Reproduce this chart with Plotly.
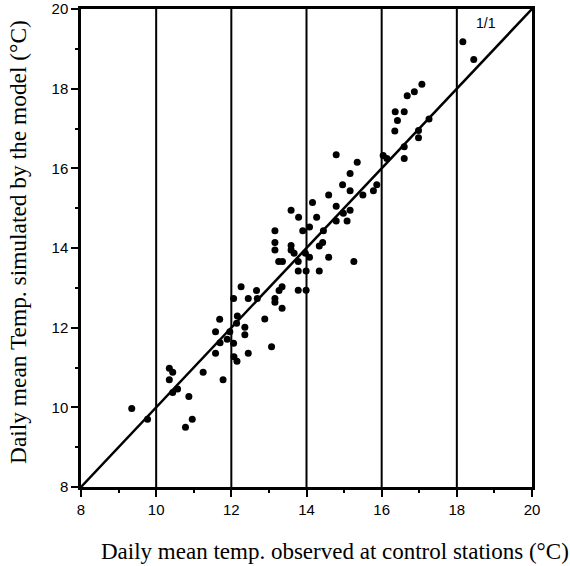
import plotly.graph_objects as go

obs_x = [9.35, 9.77, 10.35, 10.44, 10.35, 10.44, 10.57, 10.87, 10.78, 10.96,
         11.25, 11.69, 11.58, 11.70, 11.58, 11.78, 11.89, 11.96, 12.06, 12.07,
         12.15, 12.16, 12.14, 12.06, 12.26, 12.45, 12.67, 12.89, 13.07, 12.45,
         12.36, 12.36, 12.69, 13.16, 13.16, 13.35, 13.27, 13.35, 13.78, 13.99,
         13.78, 13.99, 14.34, 13.26, 13.36, 13.78, 14.08, 14.59, 15.26, 13.97,
         13.67, 13.59, 13.16, 13.59, 13.16, 14.34, 14.43, 13.16, 13.90, 14.08,
         14.45, 13.59, 14.16, 13.79, 14.27, 14.79, 14.98, 15.16, 14.79, 15.08,
         14.79, 15.35, 15.16, 14.96, 14.59, 15.16, 15.50, 15.78, 15.87, 16.04,
         16.14, 16.35, 16.42, 18.16, 18.45, 17.07, 16.87, 16.68, 16.36, 16.60,
         17.26, 16.98, 16.98, 16.60, 16.60]
sim_y = [9.97, 9.70, 10.98, 10.88, 10.69, 10.37, 10.46, 10.27, 9.50, 9.70,
         10.88, 12.21, 11.90, 11.62, 11.36, 10.69, 11.71, 11.90, 11.61, 11.27,
         11.16, 12.29, 12.11, 12.73, 13.03, 12.73, 12.93, 12.22, 11.52, 11.36,
         12.01, 11.82, 12.73, 12.73, 12.64, 12.49, 12.93, 13.03, 12.94, 12.94,
         13.42, 13.42, 13.42, 13.66, 13.66, 13.66, 13.77, 13.77, 13.66, 13.87,
         13.87, 13.95, 13.95, 14.06, 14.14, 14.05, 14.14, 14.43, 14.43, 14.53,
         14.43, 14.95, 15.14, 14.77, 14.77, 15.05, 14.87, 14.95, 14.68, 14.68,
         16.34, 16.15, 15.87, 15.59, 15.33, 15.44, 15.33, 15.44, 15.59, 16.32,
         16.25, 16.94, 17.20, 19.18, 18.73, 18.11, 17.92, 17.82, 17.42, 17.42,
         17.24, 16.95, 16.77, 16.54, 16.25]

one_to_one = [8, 20]
grid_x = [10, 12, 14, 16, 18]
tick_vals = [8, 10, 12, 14, 16, 18, 20]
minor_vals = [9, 11, 13, 15, 17, 19]
x_title = "Daily mean temp. observed at control stations (°C)"
y_title = "Daily mean Temp. simulated by the model (°C)"

serif = "Times New Roman, Liberation Serif, serif"

fig = go.Figure()
fig.add_trace(go.Scatter(x=one_to_one, y=one_to_one, mode="lines",
                         line=dict(color="black", width=2.5), hoverinfo="skip"))
fig.add_trace(go.Scatter(x=obs_x, y=sim_y, mode="markers",
                         marker=dict(color="black", size=7)))

for gx in grid_x:
    fig.add_shape(type="line", x0=gx, x1=gx, y0=8, y1=20, xref="x", yref="y",
                  line=dict(color="black", width=2))

fig.add_annotation(x=18.77, y=19.64, text="1/1", showarrow=False,
                   font=dict(family="Arial", size=14, color="black"))

fig.add_annotation(xref="paper", yref="paper", x=0.563, y=-0.134, text=x_title,
                   showarrow=False, xanchor="center", yanchor="middle",
                   font=dict(family=serif, size=23, color="black"))
fig.add_annotation(xref="paper", yref="paper", x=-0.1397, y=0.5126, text=y_title,
                   showarrow=False, xanchor="center", yanchor="middle", textangle=-90,
                   font=dict(family=serif, size=23.4, color="black"))

axis_common = dict(range=[8, 20], tickvals=tick_vals, showgrid=False, zeroline=False,
                   showline=True, linecolor="black", linewidth=2.5, mirror=True,
                   ticks="outside", ticklen=7, tickwidth=2, tickcolor="black",
                   automargin=False,
                   tickfont=dict(family="Arial", size=15, color="black"),
                   minor=dict(tickvals=minor_vals, ticks="outside",
                              ticklen=3, tickwidth=1.5, tickcolor="black"))

fig.update_layout(
    width=570, height=566,
    margin=dict(l=81, r=38, t=9, b=79),
    paper_bgcolor="white", plot_bgcolor="white",
    showlegend=False,
    xaxis=dict(**axis_common),
    yaxis=dict(**axis_common),
)

fig.write_html("out.html", config={"displayModeBar": False},
               post_script="document.body.style.margin='0';")
